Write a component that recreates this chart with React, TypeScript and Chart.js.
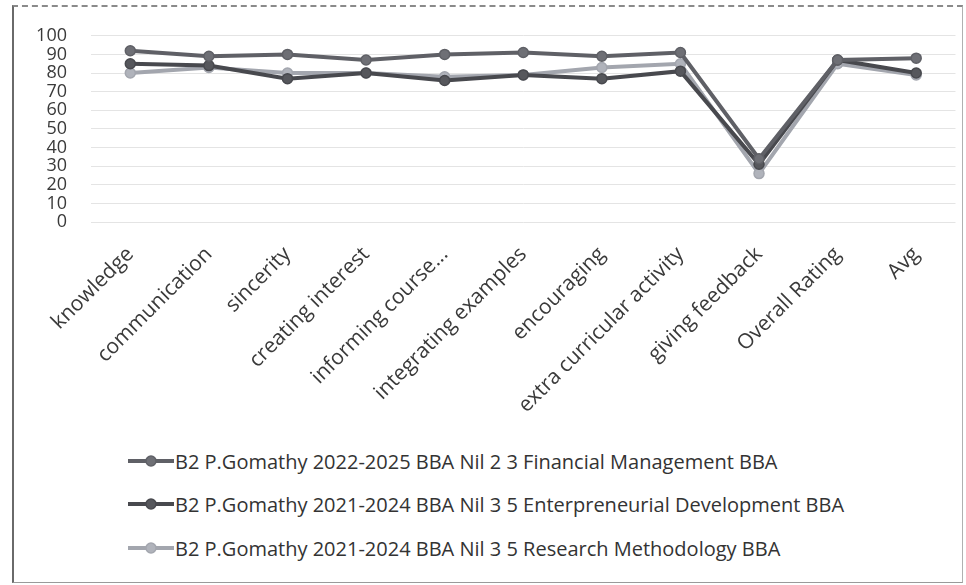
import React, { useEffect, useRef } from "react";
import { Chart, registerables } from "chart.js";

Chart.register(...registerables);

const categories = [
  "knowledge",
  "communication",
  "sincerity",
  "creating interest",
  "informing course...",
  "integrating examples",
  "encouraging",
  "extra curricular activity",
  "giving feedback",
  "Overall Rating",
  "Avg",
];

const seriesNames = [
  "B2 P.Gomathy 2022-2025 BBA Nil 2 3 Financial Management BBA",
  "B2 P.Gomathy 2021-2024 BBA Nil 3 5 Enterpreneurial Development BBA",
  "B2 P.Gomathy 2021-2024 BBA Nil 3 5 Research Methodology BBA",
];

const financialManagement = [92, 89, 90, 87, 90, 91, 89, 91, 34, 87, 88];
const enterpreneurialDevelopment = [85, 84, 77, 80, 76, 79, 77, 81, 31, 87, 80];
const researchMethodology = [80, 83, 80, 80, 78, 79, 83, 85, 26, 85, 79];

const yTicks = [0, 10, 20, 30, 40, 50, 60, 70, 80, 90, 100];

const seriesColors = ["#5f6066", "#48494e", "#a3a6ae"];
const seriesPointColors = ["#6e6f75", "#56575c", "#b0b3bb"];

const FONT = "'Open Sans', 'DejaVu Sans', sans-serif";

export default function App() {
  const canvasRef = useRef<HTMLCanvasElement | null>(null);

  useEffect(() => {
    const canvas = canvasRef.current;
    if (!canvas) return;
    const seriesValues = [financialManagement, enterpreneurialDevelopment, researchMethodology];
    const chart = new Chart(canvas, {
      type: "line",
      data: {
        labels: categories,
        datasets: seriesValues.map((vals, i) => ({
          label: seriesNames[i],
          data: vals,
          borderColor: seriesColors[i],
          backgroundColor: seriesPointColors[i],
          pointBackgroundColor: seriesPointColors[i],
          pointBorderColor: seriesColors[i],
          pointBorderWidth: 1.5,
          pointRadius: 5,
          borderWidth: 4,
          tension: 0,
          fill: false,
        })),
      },
      options: {
        animation: false,
        responsive: false,
        maintainAspectRatio: false,
        layout: { padding: { top: 22, right: 4, left: 0, bottom: 0 } },
        plugins: {
          legend: { display: false },
          tooltip: { enabled: false },
        },
        scales: {
          x: {
            grid: { display: false, drawTicks: false },
            border: { display: false },
            offset: true,
            ticks: {
              autoSkip: false,
              maxRotation: 45,
              minRotation: 45,
              padding: 20,
              color: "#3a3a3a",
              font: { family: FONT, size: 21 },
            },
            afterFit: (scale: any) => {
              scale.height = 215;
            },
          },
          y: {
            min: 0,
            max: 100,
            afterBuildTicks: (scale: any) => {
              scale.ticks = yTicks.map((v) => ({ value: v }));
            },
            grid: { color: "#e4e4e4", lineWidth: 1, drawTicks: false },
            border: { display: false },
            ticks: {
              autoSkip: false,
              padding: 24,
              color: "#3a3a3a",
              font: { family: FONT, size: 18 },
            },
            afterFit: (scale: any) => {
              scale.width = 77;
            },
          },
        },
      },
    });
    return () => chart.destroy();
  }, []);

  const legendRowTops = [0, 43, 87];

  return (
    <div
      style={{
        position: "absolute",
        left: 12,
        top: 5,
        width: 948,
        height: 575,
        borderLeft: "2px solid #6a6a6a",
        borderRight: "1px solid #b0b0b0",
        borderBottom: "1px solid #9a9a9a",
        borderTop: "2px dashed #8a8a8a",
        background: "#ffffff",
        fontFamily: FONT,
      }}
    >
      <canvas
        ref={canvasRef}
        width={948}
        height={436}
        style={{ position: "absolute", left: 0, top: -6, width: 948, height: 436 }}
      />
      {seriesNames.map((name, i) => (
        <div
          key={name}
          style={{
            position: "absolute",
            left: 114,
            top: 440 + legendRowTops[i],
            height: 28,
            display: "flex",
            alignItems: "center",
            whiteSpace: "nowrap",
            color: "#333333",
            fontSize: 20,
          }}
        >
          <svg width={46} height={14} style={{ marginRight: 1 }}>
            <line x1={0} y1={7} x2={46} y2={7} stroke={seriesColors[i]} strokeWidth={4} />
            <circle cx={23} cy={7} r={5} fill={seriesPointColors[i]} stroke={seriesColors[i]} strokeWidth={1.5} />
          </svg>
          <span>{name}</span>
        </div>
      ))}
    </div>
  );
}
